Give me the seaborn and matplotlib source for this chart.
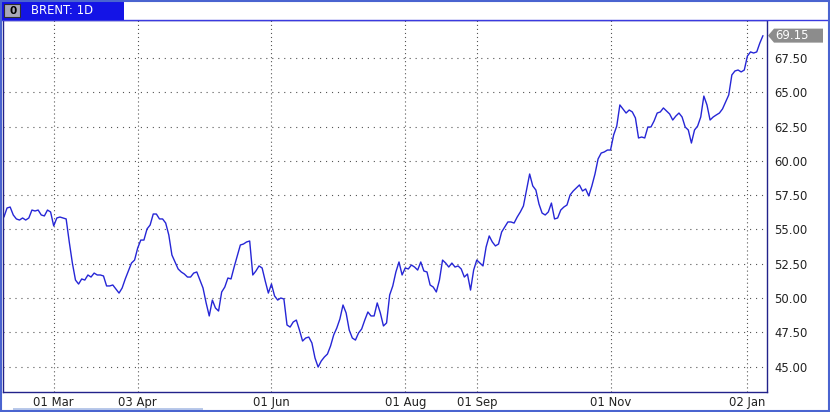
import matplotlib
matplotlib.use("Agg")
import matplotlib.pyplot as plt
import seaborn as sns
import pandas as pd
from matplotlib.patches import Rectangle, Polygon

# ---------------- data ----------------
price = [
    55.91, 56.57, 56.64, 56.06, 55.77, 55.69, 55.84, 55.69, 55.84, 56.42,
    56.35, 56.42, 56.06, 55.99, 56.42, 56.28, 55.26, 55.84, 55.91, 55.84,
    55.77, 54.09, 52.55, 51.31, 51.02, 51.39, 51.31, 51.68, 51.53, 51.82,
    51.68, 51.68, 51.61, 50.88, 50.88, 50.95, 50.66, 50.36, 50.73, 51.39,
    51.97, 52.55, 52.77, 53.65, 54.23, 54.23, 55.04, 55.33, 56.13, 56.13,
    55.77, 55.77, 55.47, 54.60, 53.14, 52.63, 52.12, 51.90, 51.75, 51.53,
    51.53, 51.82, 51.90, 51.31, 50.73, 49.64, 48.69, 49.85, 49.27, 49.05,
    50.44, 50.80, 51.46, 51.39, 52.26, 53.07, 53.87, 53.94, 54.09, 54.16,
    51.68, 51.97, 52.34, 52.19, 51.24, 50.36, 51.02, 50.15, 49.85, 50.00,
    49.93, 48.03, 47.88, 48.25, 48.39, 47.66, 46.86, 47.08, 47.15, 46.72,
    45.62, 44.96, 45.40, 45.69, 45.91, 46.50, 47.30, 47.81, 48.47, 49.49,
    48.91, 47.66, 47.08, 46.93, 47.45, 47.74, 48.39, 48.98, 48.69, 48.69,
    49.64, 48.91, 47.96, 48.18, 50.22, 50.88, 51.90, 52.63, 51.68, 52.19,
    52.12, 52.41, 52.26, 52.04, 52.63, 51.97, 51.90, 50.95, 50.80, 50.44,
    51.31, 52.77, 52.55, 52.26, 52.55, 52.26, 52.34, 52.12, 51.53, 51.75,
    50.58, 52.04, 52.77, 52.55, 52.34, 53.72, 54.53, 54.09, 53.80, 53.94,
    54.82, 55.18, 55.55, 55.55, 55.47, 55.91, 56.28, 56.72, 57.88, 59.05,
    58.18, 57.88, 56.86, 56.20, 56.06, 56.28, 56.93, 55.77, 55.84, 56.42,
    56.64, 56.79, 57.52, 57.81, 58.03, 58.25, 57.81, 57.96, 57.45, 58.18,
    59.05, 60.15, 60.58, 60.66, 60.80, 60.80, 61.90, 62.55, 64.09, 63.80,
    63.50, 63.72, 63.58, 63.14, 61.68, 61.75, 61.68, 62.48, 62.48, 62.92,
    63.50, 63.58, 63.87, 63.65, 63.43, 62.99, 63.28, 63.50, 63.21, 62.48,
    62.26, 61.31, 62.26, 62.55, 63.21, 64.74, 64.09, 62.99, 63.21, 63.36,
    63.50, 63.80, 64.31, 64.82, 66.28, 66.57, 66.64, 66.50, 66.64, 67.66,
    67.96, 67.88, 67.96, 68.61, 69.15,
]
session = list(range(len(price)))          # trading session number
month_sessions = [16, 43, 86, 129, 152, 195, 239]
month_labels = ["01 Mar", "03 Apr", "01 Jun", "01 Aug", "01 Sep", "01 Nov", "02 Jan"]
price_ticks = [45.0, 47.5, 50.0, 52.5, 55.0, 57.5, 60.0, 62.5, 65.0, 67.5]
title = "BRENT: 1D"

df = pd.DataFrame({"session": session, "price": price})

# ---------------- style ----------------
sns.set_style("white")
plt.rcParams["font.family"] = ["DejaVu Sans"]
plt.rcParams["lines.scale_dashes"] = False

W, H = 830, 412
fig = plt.figure(figsize=(W / 100, H / 100), dpi=100)
fig.patch.set_facecolor("white")

def fx(px):
    return px / W

def fy(py):
    return 1 - py / H

ax = fig.add_axes([fx(3), fy(392), fx(767) - fx(3), fy(20) - fy(392)])
ax.set_facecolor("white")

sns.lineplot(data=df, x="session", y="price", ax=ax, color="#2626d6",
             linewidth=1.0, legend=False)

ax.set_xlim(-0.3, 245.3)
ax.set_ylim(43.14, 70.29)

# grid
for yv in price_ticks:
    ax.axhline(yv, color="#555555", lw=0.8, ls=(0, (0.8, 3.5)), zorder=0)
for xv in month_sessions:
    ax.axvline(xv, color="#555555", lw=0.8, ls=(0, (0.8, 2.1)), zorder=0)

ax.yaxis.tick_right()
ax.set_yticks(price_ticks)
ax.set_yticklabels([f"{v:.2f}" for v in price_ticks])
ax.set_xticks(month_sessions)
ax.set_xticklabels(month_labels)
ax.tick_params(axis="y", length=0, pad=5, labelsize=8.4, colors="#222222")
ax.tick_params(axis="x", length=0, pad=3, labelsize=8.4, colors="#222222")
ax.set_xlabel("")
ax.set_ylabel("")
for s in ax.spines.values():
    s.set_color("#22228a")
    s.set_linewidth(1.0)

# last price marker
fig.canvas.draw()
ydisp = ax.transData.transform((0, price[-1]))[1]
yc = ydisp / H
x0, x1 = fx(768), fx(823)
hh = 7 / H
marker = Polygon([(x0, yc), (fx(774), yc + hh), (x1, yc + hh), (x1, yc - hh), (fx(774), yc - hh)],
                 closed=True, transform=fig.transFigure, facecolor="#8c8c8c",
                 edgecolor="none")
fig.patches.append(marker)
fig.text(fx(775), yc, f"{price[-1]:.2f}", color="white", fontsize=8.4,
         va="center", ha="left")

# title row
fig.patches.append(Rectangle((0, fy(20)), 1, 20 / H, transform=fig.transFigure,
                             facecolor="white", edgecolor="#3a3ae0", lw=1.0))
fig.patches.append(Rectangle((0, fy(20)), fx(124), 20 / H, transform=fig.transFigure,
                             facecolor="#1414e6", edgecolor="none"))
fig.patches.append(Rectangle((fx(4), fy(17)), fx(16), 13 / H, transform=fig.transFigure,
                             facecolor="#a8a8b8", edgecolor="#303030", lw=0.8))
fig.text(fx(9), fy(10.5), "0", color="black", fontsize=7.5, fontweight="bold",
         va="center", ha="left")
fig.text(fx(31), fy(10.5), title, color="white", fontsize=8.4,
         va="center", ha="left")

# bottom scrollbar strip
fig.patches.append(Rectangle((fx(13), 0), fx(190), 4 / H, transform=fig.transFigure,
                             facecolor="#b9c9ea", edgecolor="none"))

# outer frame
fig.patches.append(Rectangle((0.0015, 0.003), 0.997, 0.994, transform=fig.transFigure,
                             facecolor="none", edgecolor="#4a64d0", lw=1.5))

fig.savefig("out.png", dpi=100)
